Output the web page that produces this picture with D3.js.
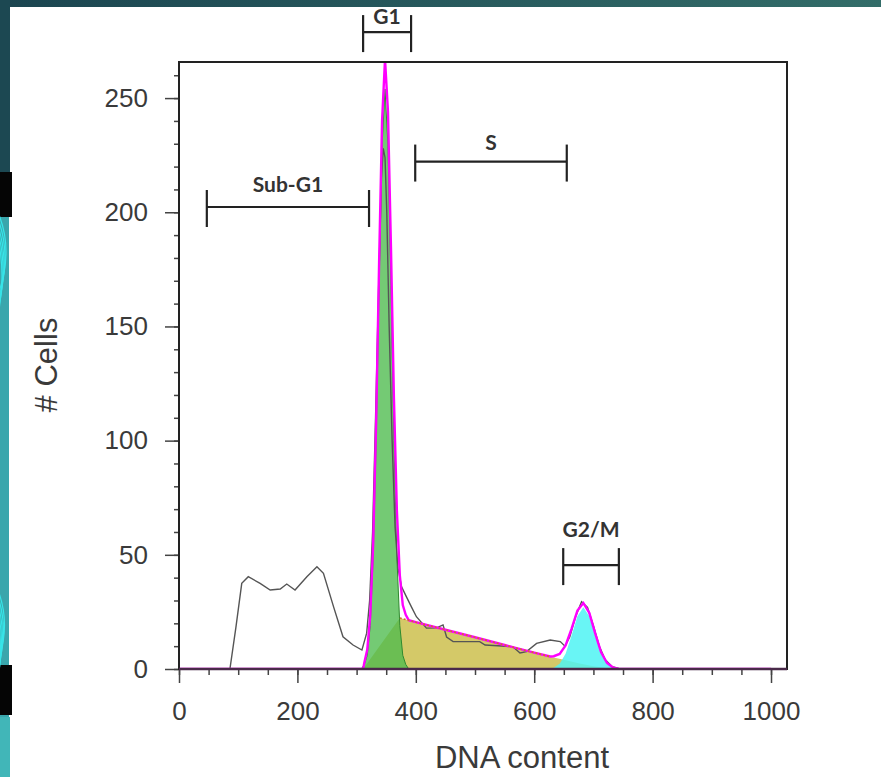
<!DOCTYPE html>
<html lang="en">
<head>
  <meta charset="UTF-8">
  <title>Cell cycle histogram</title>
  <style>
    body { margin: 0; overflow: hidden; background: #fff; }
    svg { display: block; }
    .tick text { font-family: "Liberation Sans", Arial, sans-serif; font-size: 26px; fill: #3a3a3a; }
    .tick line { stroke: #444; stroke-width: 1.5px; }
    .axis-title { font-family: "Liberation Sans", Arial, sans-serif; font-size: 31px; fill: #3a3a3a; }
    .gate line { stroke: #222; stroke-width: 2.2px; }
    .gate text { font-family: Lato, "Open Sans", sans-serif; font-weight: 700; font-size: 21px; fill: #333; }
  </style>
</head>
<body>
  <svg width="881" height="777"></svg>
  <script src="https://cdn.jsdelivr.net/npm/d3@7"></script>
  <script>
    // ---- data ----
    const xTicks = [0, 200, 400, 600, 800, 1000];
    const yTicks = [0, 50, 100, 150, 200, 250];

    // raw histogram (grey line): [DNA content, # cells]
    const rawHist = [[0,0],[86,0],[96,18],[106,37.5],[117,40.4],[137,37.5],[154,34.6],[171,35],[182,37.2],
      [196,34.6],[216,40.4],[233,44.8],[244,41.9],[261,27.3],[277,14.1],[294,10.5],[309,8.3],[317,15.7],
      [322,30],[327,60],[332,110],[337,165],[342,215],[345,228],[348,224],[351,200],[355,150],[360,100],
      [365,62],[370,44],[376,36],[384,31.7],[393,27],[401,22.9],[418,17.9],[435,18],[446,19.3],[452,14],
      [463,12],[508,12],[517,10.5],[564,9.8],[576,7],[587,7.6],[604,11.2],[627,12.7],[644,12],[652,10],
      [660,14],[670,23],[680,29.5],[690,27],[700,19],[710,10],[720,4],[732,1],[745,0],[1000,0]];

    // fitted G1 peak (green)
    const g1Fit = [[308,0],[313,2],[318,6],[323,19],[328,49],[333,100],[338,168],[343,229],[348,254],
      [353,229],[358,168],[363,100],[368,49],[373,19],[378,6],[383,2],[388,0]];

    // fitted S phase (yellow)
    const sFit = [[311,0],[342,11.2],[373,22.3],[400,20.5],[450,17.2],[500,13.9],[550,10.5],[600,7.2],
      [627,5.4],[650,4],[675,2.5],[700,1.2],[725,0.3],[740,0]];

    // fitted G2/M peak (cyan)
    const g2Fit = [[623,0],[633,0.6],[643,2.3],[653,6.7],[663,14.6],[673,23.1],[683,27],[693,23.1],
      [703,14.6],[713,6.7],[723,2.3],[733,0.6],[743,0]];

    // sum of the model (magenta)
    const modelSum = [[0,0],[311,0],[313,2.7],[318,8.5],[323,23.3],[328,55],[333,108],[338,178],[343,240],
      [348,267],[353,244],[358,185],[363,119],[368,69.5],[373,41],[378,28],[383,23.7],[388,21.4],
      [400,20.5],[450,17.2],[500,13.9],[550,10.5],[600,7.2],[627,5.5],[633,5.6],[643,6.6],[653,10.3],
      [663,17.6],[673,25.6],[683,28.9],[693,24.6],[703,15.6],[713,7.3],[723,2.6],[733,0.7],[743,0],[1000,0]];

    // gates: label, from, to, level (# cells)
    const gateNames = ["Sub-G1", "G1", "S", "G2/M"];
    const gateFrom = [47, 311, 399, 649];
    const gateTo = [321, 392, 655, 743];
    const gateLevel = [202.3, 278.9, 222.2, 45.5];

    const svg = d3.select("svg");

    // ---- backdrop (slide frame) ----
    const defs = svg.append("defs");
    const grad = defs.append("linearGradient").attr("id", "topband");
    grad.append("stop").attr("offset", "0%").attr("stop-color", "#1b4550");
    grad.append("stop").attr("offset", "100%").attr("stop-color", "#336d69");
    svg.append("rect").attr("x", 0).attr("y", 0).attr("width", 881).attr("height", 7).attr("fill", "url(#topband)");
    svg.append("rect").attr("x", 0).attr("y", 0).attr("width", 10).attr("height", 172).attr("fill", "#1c4852");
    svg.append("rect").attr("x", 0).attr("y", 172).attr("width", 9).attr("height", 545).attr("fill", "#3aa6ac");
    svg.append("rect").attr("x", 0).attr("y", 172).attr("width", 12).attr("height", 45).attr("fill", "#050505");
    svg.append("rect").attr("x", 0).attr("y", 665).attr("width", 12).attr("height", 50).attr("fill", "#050505");
    svg.append("rect").attr("x", 0).attr("y", 717).attr("width", 10).attr("height", 60).attr("fill", "#41b6b8");
    const swirl = svg.append("g").attr("fill", "none").attr("stroke", "#38e4e8").attr("stroke-width", 1.2);
    [0, 6, 12, 18, 24].forEach(function(o) {
      swirl.append("path").attr("d", `M -4 ${208 + o} Q ${16 - o / 3} ${250 + o} -4 ${300 + o}`);
      swirl.append("path").attr("d", `M -4 ${585 + o} Q ${13 - o / 3} ${625 + o} -4 ${665 + o}`);
    });

    // ---- chart ----
    const x = d3.scaleLinear().domain([0, 1027]).range([179, 787]);
    const y = d3.scaleLinear().domain([0, 265.8]).range([669, 62]);

    defs.append("clipPath").attr("id", "plot")
      .append("rect").attr("x", 179).attr("y", 62).attr("width", 608).attr("height", 607);

    const area = d3.area().x(d => x(d[0])).y0(y(0)).y1(d => y(d[1]));
    const line = d3.line().x(d => x(d[0])).y(d => y(d[1]));

    const plot = svg.append("g").attr("clip-path", "url(#plot)");

    plot.append("path").datum(sFit).attr("d", area)
      .attr("fill", "#cdbf4e").attr("fill-opacity", 0.85);
    plot.append("path").datum(g1Fit).attr("d", area)
      .attr("fill", "#4dbb4d").attr("fill-opacity", 0.78)
      .attr("stroke", "#2f8a2f").attr("stroke-width", 1);
    plot.append("path").datum(g2Fit).attr("d", area)
      .attr("fill", "#4ff3f3").attr("fill-opacity", 0.85);

    plot.append("path").datum(rawHist).attr("d", line)
      .attr("fill", "none").attr("stroke", "#555").attr("stroke-width", 1.4);

    plot.append("path").datum(modelSum).attr("d", line)
      .attr("fill", "none").attr("stroke", "#ff00ff").attr("stroke-width", 2.4);
    plot.append("path").datum(sFit.filter(d => d[0] >= 373 && d[0] <= 627)).attr("d", line)
      .attr("fill", "none").attr("stroke", "#d0702c").attr("stroke-width", 1.6)
      .attr("stroke-dasharray", "2,2");

    // axes
    svg.append("g").attr("transform", "translate(179,0)")
      .call(d3.axisLeft(y).tickValues(yTicks).tickSize(14).tickPadding(17));
    svg.append("g").attr("transform", "translate(179,0)")
      .call(d3.axisLeft(y).tickValues(d3.range(0, 261, 10)).tickSize(5).tickFormat(""));
    svg.append("g").attr("transform", "translate(0,669)")
      .call(d3.axisBottom(x).tickValues(xTicks).tickSize(14).tickPadding(19).tickFormat(d3.format("d")));
    svg.append("g").attr("transform", "translate(0,669)")
      .call(d3.axisBottom(x).tickValues(d3.range(0, 1001, 50)).tickSize(6).tickFormat(""));
    svg.selectAll(".domain").remove();

    // frame
    svg.append("rect").attr("x", 179).attr("y", 62).attr("width", 608).attr("height", 607)
      .attr("fill", "none").attr("stroke", "#222").attr("stroke-width", 2);
    svg.append("line").attr("x1", 179).attr("x2", 787).attr("y1", 669).attr("y2", 669)
      .attr("stroke", "#4a2a4a").attr("stroke-width", 2.5);

    svg.append("text").attr("class", "axis-title").attr("text-anchor", "middle")
      .attr("x", 522).attr("y", 768).text("DNA content");
    svg.append("text").attr("class", "axis-title").attr("text-anchor", "middle")
      .attr("transform", "translate(57,365) rotate(-90)").text("# Cells");

    // gates (bracket + bold label above it)
    const labelLift = [15, 8, 12, 28];
    const gates = svg.append("g").attr("class", "gate");
    gateNames.forEach(function(name, i) {
      const gy = y(gateLevel[i]);
      const g = gates.append("g");
      g.append("line").attr("x1", x(gateFrom[i])).attr("x2", x(gateTo[i])).attr("y1", gy).attr("y2", gy);
      g.append("line").attr("x1", x(gateFrom[i])).attr("x2", x(gateFrom[i])).attr("y1", gy - 17).attr("y2", gy + 20);
      g.append("line").attr("x1", x(gateTo[i])).attr("x2", x(gateTo[i])).attr("y1", gy - 17).attr("y2", gy + 20);
      g.append("text").attr("text-anchor", "middle")
        .attr("x", (x(gateFrom[i]) + x(gateTo[i])) / 2).attr("y", gy - labelLift[i]).text(name);
    });
  </script>
</body>
</html>
